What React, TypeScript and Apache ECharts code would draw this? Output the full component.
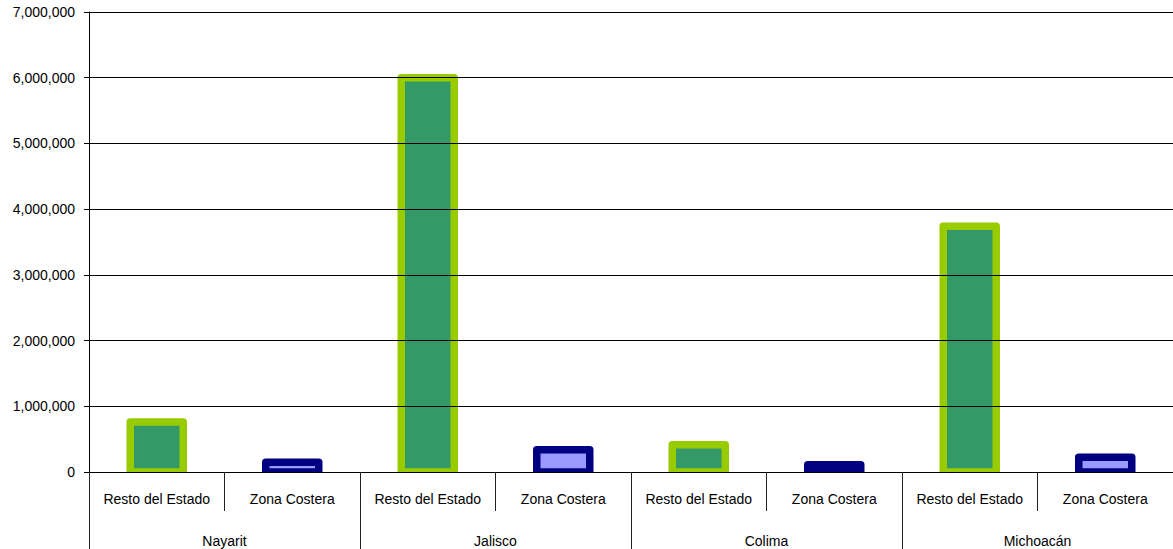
import React, { useEffect, useRef } from "react";
import * as echarts from "echarts";

const states = ["Nayarit", "Jalisco", "Colima", "Michoacán"];
const subTypes = ["Resto del Estado", "Zona Costera"];
const restoValues = [760000, 6000000, 415000, 3740000];
const zonaValues = [150000, 340000, 110000, 225000];
const yTicks = { min: 0, max: 7000000, interval: 1000000 };

const FONT = "'Liberation Sans', Arial, sans-serif";
const FILLS = ["#339966", "#9999FF"];
const STROKES = ["#99CC00", "#000080"];

export default function App() {
  const ref = useRef<HTMLDivElement>(null);
  useEffect(() => {
    if (!ref.current) return;
    const chart = echarts.init(ref.current, undefined, { renderer: "svg" });
    const subCats: string[] = [];
    const data: number[][] = [];
    states.forEach((s, i) => {
      subCats.push(subTypes[0]);
      data.push([subCats.length - 1, restoValues[i], 0]);
      subCats.push(subTypes[1]);
      data.push([subCats.length - 1, zonaValues[i], 1]);
    });
    chart.setOption({
      animation: false,
      grid: { left: 89, top: 12, width: 1091, height: 460, containLabel: false },
      xAxis: [
        {
          type: "category",
          data: subCats,
          position: "bottom",
          z: 10,
          axisLine: { show: true, lineStyle: { color: "#000", width: 1 } },
          axisTick: { show: true, interval: 0, length: 39, lineStyle: { color: "#222", width: 1 } },
          axisLabel: { interval: 0, color: "#000", fontSize: 14, fontFamily: FONT, margin: 20 },
          splitLine: { show: false },
        },
        {
          type: "category",
          data: states,
          position: "bottom",
          offset: 39,
          z: 10,
          axisLine: { show: false },
          axisTick: { show: true, interval: 0, length: 38, lineStyle: { color: "#222", width: 1 } },
          axisLabel: { interval: 0, color: "#000", fontSize: 14, fontFamily: FONT, margin: 23 },
          splitLine: { show: false },
        },
      ],
      yAxis: {
        type: "value",
        min: yTicks.min,
        max: yTicks.max,
        interval: yTicks.interval,
        z: 10,
        axisLine: { show: true, lineStyle: { color: "#000", width: 1 } },
        axisTick: { show: true, length: 5, lineStyle: { color: "#000" } },
        axisLabel: {
          color: "#000",
          fontSize: 14,
          fontFamily: FONT,
          margin: 14,
          formatter: (v: number) => v.toLocaleString("en-US"),
        },
        splitLine: { show: true, lineStyle: { color: "#000", width: 1 } },
      },
      series: [
        {
          type: "custom",
          xAxisIndex: 0,
          yAxisIndex: 0,
          clip: true,
          encode: { x: 0, y: 1 },
          data,
          renderItem: (params: any, api: any) => {
            const x = api.value(0);
            const v = api.value(1);
            const t = api.value(2);
            const top = api.coord([x, v]);
            const base = api.coord([x, 0]);
            const w = 53;
            return {
              type: "rect",
              shape: { x: top[0] - w / 2, y: top[1], width: w, height: base[1] - top[1] },
              style: { fill: FILLS[t], stroke: STROKES[t], lineWidth: 7.5, lineJoin: "round" },
            };
          },
        },
      ],
    });
    return () => chart.dispose();
  }, []);
  return (
    <div
      ref={ref}
      style={{ position: "absolute", left: 0, top: 0, width: 1173, height: 549, background: "#fff" }}
    />
  );
}
